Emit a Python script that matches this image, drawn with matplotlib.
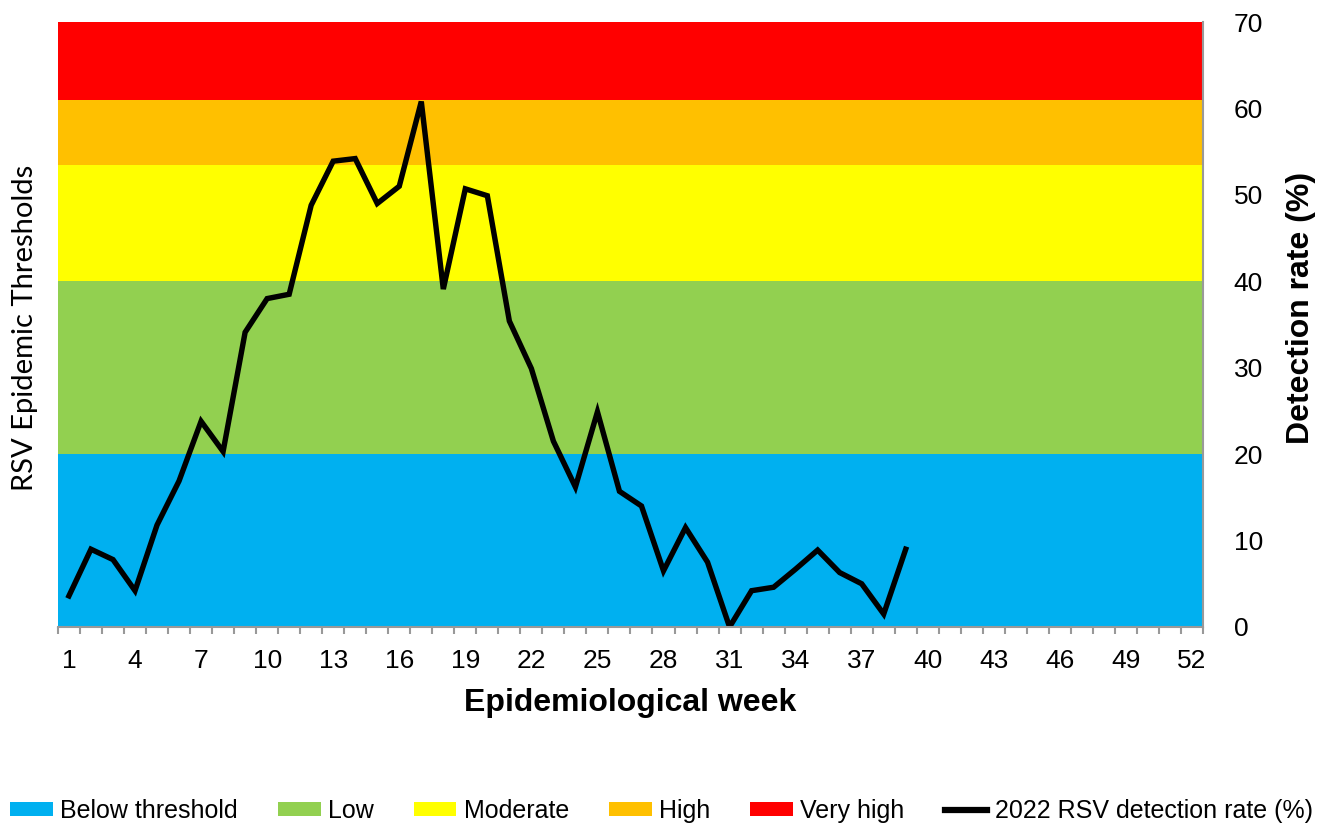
import matplotlib.pyplot as plt
from matplotlib.patches import Patch
from matplotlib.lines import Line2D

weeks = list(range(1, 40))
rate = [3.6, 9.0, 7.8, 4.2, 11.8, 16.9, 23.8, 20.3, 34.1, 38.0,
        38.5, 48.8, 53.9, 54.2, 49.0, 51.0, 60.8, 39.1, 50.7, 49.9,
        35.4, 29.9, 21.5, 16.2, 24.9, 15.7, 14.0, 6.5, 11.5, 7.5,
        0.0, 4.2, 4.6, 6.7, 8.9, 6.3, 5.0, 1.5, 9.0]

levels = ["Below threshold", "Low", "Moderate", "High", "Very high"]
bounds = [0, 20, 40, 53.5, 61, 70]
colors = ["#00B0F0", "#92D050", "#FFFF00", "#FFC000", "#FF0000"]

tick_weeks = list(range(1, 53, 3))

plt.rcParams['font.family'] = ['Liberation Sans', 'DejaVu Sans']

fig = plt.figure(figsize=(13.23, 8.25), dpi=100)
ax = fig.add_axes([0.0438, 0.24, 0.9093 - 0.0438, 0.9733 - 0.24])

for i in range(len(levels)):
    ax.axhspan(bounds[i], bounds[i + 1], color=colors[i], lw=0)

ax.plot(weeks, rate, color="black", lw=3.9, solid_joinstyle="miter")

ax.set_xlim(0.5, 52.5)
ax.set_ylim(0, 70)

ax.set_xticks(tick_weeks)
ax.set_xticklabels([str(w) for w in tick_weeks], fontsize=19)
ax.set_xticks([w + 0.5 for w in range(0, 53)], minor=True)
ax.tick_params(axis="x", which="major", length=0, pad=16)
ax.tick_params(axis="x", which="minor", length=5, width=1.5, color="#999999")

ax.yaxis.tick_right()
ax.set_yticks(range(0, 71, 10))
ax.tick_params(axis="y", length=0, labelsize=19, pad=22)

ax.set_xlabel("Epidemiological week", fontsize=23, fontweight="bold", labelpad=11)

for s in ["top", "left"]:
    ax.spines[s].set_visible(False)
ax.spines["bottom"].set_color("#999999")
ax.spines["bottom"].set_linewidth(1.5)
ax.spines["right"].set_color("#999999")
ax.spines["right"].set_linewidth(1.5)

fig.text(0.019, 0.603, "RSV Epidemic Thresholds", rotation=90, va="center", ha="center",
         fontsize=21, family=['Lato', 'DejaVu Sans'])
fig.text(1301 / 1323, 0.627, "Detection rate (%)", rotation=90, va="center", ha="center",
         fontsize=23, fontweight="bold")

handles = [Patch(facecolor=c, edgecolor="none") for c in colors]
handles.append(Line2D([0], [0], color="black", lw=4.5))
labels = levels + ["2022 RSV detection rate (%)"]
fig.legend(handles, labels, loc="lower center", bbox_to_anchor=(0.5, -0.025), ncol=6,
           frameon=False, handlelength=1.7, handleheight=0.5,
           handletextpad=0.3, columnspacing=1.6,
           prop={'family': ['Liberation Sans Narrow', 'Liberation Sans'], 'size': 18})

fig.savefig("out.png", dpi=100)
